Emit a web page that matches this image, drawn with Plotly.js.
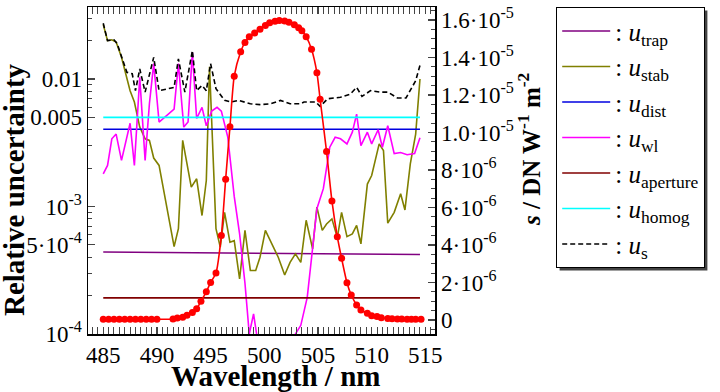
<!DOCTYPE html>
<html>
<head>
<meta charset="utf-8">
<script src="https://cdn.plot.ly/plotly-3.0.1.min.js"></script>
<style>
  html, body { margin: 0; padding: 0; background: #fff; }
  #chart { width: 720px; height: 392px; }
</style>
</head>
<body>
<div id="chart"></div>
<script>
var CHART = document.getElementById('chart');

// responsivity s (right axis, units of 1e-6 DN W^-1 m^-2)
var wlS = [485, 485.5, 486, 486.5, 487, 487.5, 488, 488.5, 489, 489.5, 490,
  491.5, 491.9, 492.4, 492.8, 493.3, 493.7, 494.1, 494.6, 495.0, 495.5, 496.0, 496.4,
  496.8, 497.2, 497.8, 498.2, 498.6, 499.1, 499.6, 500.1, 500.5, 501.0, 501.4, 501.9,
  502.3, 502.8, 503.2, 503.5, 503.9, 504.4, 504.9, 505.2, 505.8, 506.3, 506.8, 507.2,
  507.7, 508.1, 508.6, 509.0, 509.6, 510.0, 510.5, 510.9, 511.5, 511.9, 512.4, 512.8,
  513.3, 513.7, 514.1, 514.6];
var sVal = [0.04, 0.04, 0.04, 0.04, 0.04, 0.04, 0.04, 0.04, 0.04, 0.04, 0.04,
  0.05, 0.1, 0.15, 0.25, 0.4, 0.6, 1.0, 1.5, 2.0, 2.5, 4.5, 7.5,
  10.3, 13.0, 14.3, 14.8, 15.1, 15.3, 15.5, 15.7, 15.85, 15.93, 15.97, 15.95,
  15.88, 15.75, 15.58, 15.43, 15.11, 14.44, 13.19, 11.77, 8.98, 6.35, 4.44, 3.29,
  1.99, 1.33, 0.8, 0.53, 0.36, 0.23, 0.18, 0.12, 0.08, 0.06, 0.05, 0.05,
  0.04, 0.04, 0.04, 0.04];

// u_stab
var wlStab = [485.0, 485.4, 485.8, 486.2, 486.7, 487.5, 487.9, 488.4, 488.9, 489.3, 489.7, 490.2,
  491.6, 492.0, 492.4, 492.9, 493.2, 493.7, 494.2, 494.6, 494.9, 495.5, 495.9, 496.3, 496.8,
  497.2, 497.7, 498.2, 498.7, 499.2, 499.6, 500.1, 500.7, 501.3, 501.9, 502.4, 502.9, 503.4,
  503.9, 504.5, 504.9, 505.4, 505.8, 506.3, 506.8, 507.2, 507.7, 508.2, 508.6, 509.0, 509.6,
  510.0, 510.7, 511.1, 511.5, 512.1, 512.7, 513.1, 513.6, 514.1, 514.5];
var uStab = [0.0267, 0.020, 0.0203, 0.0195, 0.0148, 0.0081, 0.0066, 0.0042, 0.0034, 0.0033, 0.0024, 0.0021,
  4.85e-4, 6.7e-4, 3.3e-3, 2.0e-3, 1.42e-3, 1.65e-3, 8.5e-4, 1.6e-3, 0.0125, 6.7e-4, 4.8e-4, 9.0e-4, 5.25e-4,
  5.4e-4, 2.7e-4, 6.5e-4, 3.15e-4, 3.15e-4, 4.0e-4, 6.5e-4, 5.1e-4, 4.0e-4, 2.9e-4, 3.65e-4, 4.25e-4, 3.65e-4,
  7.8e-4, 4.65e-4, 9.9e-4, 6.5e-4, 7.3e-4, 8.0e-4, 5.7e-4, 9.0e-4, 5.8e-4, 6.1e-4, 7.1e-4, 5.1e-4, 1.5e-3,
  1.75e-3, 3.1e-3, 2.75e-3, 7.4e-4, 9.0e-4, 1.26e-3, 9.4e-4, 2.16e-3, 3.7e-3, 0.010];

// u_wl
var wlWl = [485.0, 485.4, 485.8, 486.2, 486.7, 487.5, 487.9, 488.4, 488.9, 489.3, 489.7, 490.2,
  491.6, 492.0, 492.5, 492.9, 493.3, 493.7, 494.2, 494.6, 495.1, 495.6, 496.0, 496.6, 497.2,
  497.7, 498.2, 498.6, 499.0, 499.4, 500.0, 501.0, 502.0, 502.9, 503.4, 504.0, 504.9, 505.5,
  506.1, 506.6, 507.1, 507.7, 508.2, 508.6, 509.0, 509.6, 510.0, 510.6, 511.0, 511.5, 512.1,
  512.7, 513.3, 514.0, 514.5];
var uWl = [0.0018, 0.0021, 0.0034, 0.0037, 0.0023, 0.0045, 0.0021, 0.0103, 0.0023, 0.0064, 0.0132, 0.0046,
  0.0058, 0.0132, 0.0042, 0.0046, 0.0162, 0.0049, 0.0060, 0.0043, 0.0056, 0.0060, 0.0056, 0.0035, 0.0012,
  6.1e-4, 2.5e-4, 1.0e-4, 1.44e-4, 9e-5, 4e-5, 3e-5, 4e-5, 1.0e-4, 1.17e-4, 1.94e-4, 9.6e-4, 1.38e-3,
  2.92e-3, 3.49e-3, 3.4e-3, 3.1e-3, 3.83e-3, 5.3e-3, 3.0e-3, 3.83e-3, 3.1e-3, 4.0e-3, 2.92e-3, 4.3e-3, 2.6e-3,
  2.65e-3, 2.55e-3, 2.6e-3, 3.46e-3];

// u_s (combined)
var wlUs = [485.0, 485.4, 486.0, 486.3, 487.2, 487.7, 488.0, 488.4, 488.9, 489.7, 490.2, 490.9,
  491.6, 492.0, 492.6, 493.3, 493.7, 494.2, 494.6, 495.0, 495.5, 496.3, 496.9, 497.6, 498.7,
  499.6, 500.6, 501.5, 502.4, 503.4, 503.7, 504.8, 505.2, 505.9, 507.1, 508.0, 508.6, 509.1,
  509.9, 510.8, 511.5, 512.4, 513.2, 514.1, 514.5];
var uS = [0.0274, 0.020, 0.0203, 0.0189, 0.0113, 0.0110, 0.0081, 0.0120, 0.0079, 0.0148, 0.0081, 0.0083,
  0.0086, 0.0144, 0.0079, 0.0167, 0.0081, 0.0089, 0.0081, 0.0132, 0.0084, 0.0068, 0.0066, 0.0068, 0.0064,
  0.0063, 0.0064, 0.0068, 0.0064, 0.0064, 0.0066, 0.0066, 0.0061, 0.0070, 0.0072, 0.0076, 0.0086, 0.0073,
  0.0081, 0.0079, 0.0079, 0.0071, 0.0071, 0.0097, 0.0128];

// nearly constant components
var wlEnds = [485, 514.5];
var uTrap = [4.4e-4, 4.2e-4];
var uDist = [4.04e-3, 4.04e-3];
var uAperture = [1.92e-4, 1.92e-4];
var uHomog = [5.0e-3, 5.0e-3];

var serif = 'Liberation Serif';

function comp(x, y, name, color, dash) {
  return {
    x: x, y: y, name: name, type: 'scatter', mode: 'lines',
    line: {color: color, width: 1.6, dash: dash || 'solid'},
    hoverinfo: 'none'
  };
}

var data = [
  comp(wlEnds, uTrap, ': <i>u</i><sub>trap</sub>', '#800080'),
  comp(wlStab, uStab, ': <i>u</i><sub>stab</sub>', '#808000'),
  comp(wlEnds, uDist, ': <i>u</i><sub>dist</sub>', '#0000e0'),
  comp(wlWl, uWl, ': <i>u</i><sub>wl</sub>', '#ff00ff'),
  comp(wlEnds, uAperture, ': <i>u</i><sub>aperture</sub>', '#800000'),
  comp(wlEnds, uHomog, ': <i>u</i><sub>homog</sub>', '#00ffff'),
  comp(wlUs, uS, ': <i>u</i><sub>s</sub>', '#000000', '5px,3px'),
  {
    x: wlS, y: sVal.map(function (v) { return v * 1e-6; }),
    yaxis: 'y2', type: 'scatter', mode: 'lines+markers',
    line: {color: '#ff0000', width: 1.6, shape: 'spline', smoothing: 0.6},
    marker: {color: '#ff0000', size: 7},
    showlegend: false, hoverinfo: 'none'
  }
];

var W = 347, H = 327, L = 88, T = 7;
function px(x) { return (x - L) / W; }
function py(y) { return (T + H - y) / H; }

var titleFont = {family: serif, size: 29, color: '#000', weight: 'bold'};

var layout = {
  width: 720, height: 392,
  margin: {l: L, r: 720 - L - W, t: T, b: 392 - T - H},
  paper_bgcolor: '#fff', plot_bgcolor: '#fff',
  font: {family: serif, size: 23, color: '#000'},
  showlegend: true,
  xaxis: {
    range: [483.58, 515.9],
    tickvals: [485, 490, 495, 500, 505, 510, 515],
    ticks: 'inside', ticklen: 7, tickwidth: 1.2,
    minor: {dtick: 0.5, ticks: 'inside', ticklen: 4, tickwidth: 1},
    showline: true, linewidth: 1.5, linecolor: '#000', mirror: 'allticks',
    showgrid: false, zeroline: false,
    tickfont: {family: serif, size: 23}
  },
  yaxis: {
    type: 'log', range: [-4, -1.435],
    tickvals: [1e-4, 5e-4, 1e-3, 5e-3, 0.01],
    ticktext: ['10<sup>-4</sup>', '5·10<sup>-4</sup>', '10<sup>-3</sup>', '0.005', '0.01'],
    ticks: 'inside', ticklen: 7, tickwidth: 1.2,
    minor: {tickvals: [2e-4, 3e-4, 4e-4, 6e-4, 7e-4, 8e-4, 9e-4, 2e-3, 3e-3, 4e-3, 6e-3, 7e-3, 8e-3, 9e-3, 0.02, 0.03],
            ticks: 'inside', ticklen: 4, tickwidth: 1},
    showline: true, linewidth: 1.5, linecolor: '#000',
    showgrid: false, zeroline: false,
    tickfont: {family: serif, size: 23}
  },
  yaxis2: {
    overlaying: 'y', side: 'right', anchor: 'x',
    range: [-0.747e-6, 16.69e-6],
    tickvals: [0, 2e-6, 4e-6, 6e-6, 8e-6, 1e-5, 1.2e-5, 1.4e-5, 1.6e-5],
    ticktext: ['0', '2·10<sup>-6</sup>', '4·10<sup>-6</sup>', '6·10<sup>-6</sup>', '8·10<sup>-6</sup>',
               '1.0·10<sup>-5</sup>', '1.2·10<sup>-5</sup>', '1.4·10<sup>-5</sup>', '1.6·10<sup>-5</sup>'],
    ticks: 'inside', ticklen: 7, tickwidth: 1.2,
    minor: {dtick: 0.5e-6, ticks: 'inside', ticklen: 4, tickwidth: 1},
    showline: true, linewidth: 1.5, linecolor: '#000',
    showgrid: false, zeroline: false,
    tickfont: {family: serif, size: 23}
  },
  legend: {
    x: px(556), y: py(7), xanchor: 'left', yanchor: 'top',
    bgcolor: '#fff', bordercolor: '#000', borderwidth: 1.2,
    font: {family: serif, size: 25},
    itemwidth: 48
  },
  annotations: [
    {xref: 'paper', yref: 'paper', x: px(275), y: py(376), xanchor: 'center', yanchor: 'middle',
     showarrow: false, text: 'Wavelength / nm', font: titleFont},
    {xref: 'paper', yref: 'paper', x: px(14), y: py(190), xanchor: 'center', yanchor: 'middle',
     showarrow: false, textangle: -90, text: 'Relative uncertainty', font: titleFont},
    {xref: 'paper', yref: 'paper', x: px(529), y: py(150), xanchor: 'center', yanchor: 'middle',
     showarrow: false, textangle: -90,
     text: '<i>s</i> / DN W<sup>-1</sup> m<sup>-2</sup>', font: {family: serif, size: 25, color: '#000', weight: 'bold'}}
  ]
};

Plotly.newPlot(CHART, data, layout, {displayModeBar: false, staticPlot: true}).then(function () {
  // drop shadow behind the legend box, sized from the drawn legend
  var bg = CHART.querySelector('.legend .bg');
  if (!bg) return;
  var r = bg.getBoundingClientRect();
  var c = CHART.getBoundingClientRect();
  var x0 = r.left - c.left + 3, x1 = r.right - c.left + 3;
  var y0 = r.top - c.top + 3, y1 = r.bottom - c.top + 3;
  return Plotly.relayout(CHART, {shapes: [{
    type: 'rect', xref: 'paper', yref: 'paper',
    x0: px(x0), x1: px(x1), y0: py(y1), y1: py(y0),
    fillcolor: '#444', line: {width: 0}, layer: 'below'
  }]});
});
</script>
</body>
</html>
